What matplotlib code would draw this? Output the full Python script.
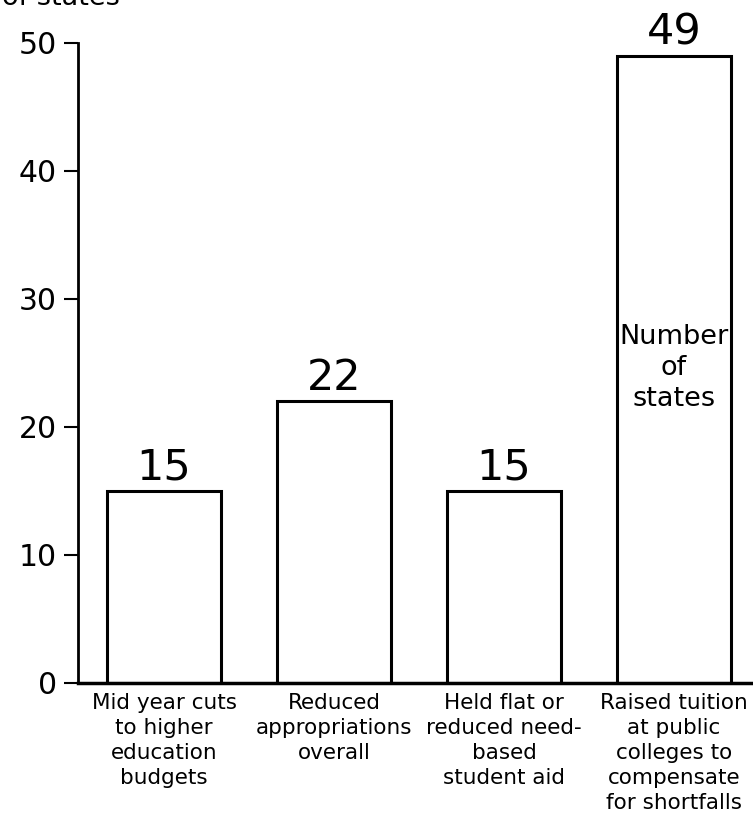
import matplotlib
matplotlib.use('Agg')
import matplotlib.pyplot as plt

# data
categories = ['Mid year cuts\nto higher\neducation\nbudgets',
              'Reduced\nappropriations\noverall',
              'Held flat or\nreduced need-\nbased\nstudent aid',
              'Raised tuition\nat public\ncolleges to\ncompensate\nfor shortfalls']
counts = [15, 22, 15, 49]
yticks = [0, 10, 20, 30, 40, 50]

plt.rcParams['font.family'] = ['DejaVu Sans']

fig = plt.figure(figsize=(7.53, 8.17), dpi=100)
ax = fig.add_axes([78 / 753, 1 - 683 / 817, 1 - 78 / 753, (683 - 43) / 817])

x = list(range(len(counts)))
bars = ax.bar(x, counts, width=0.67, color='white', edgecolor='black', linewidth=2.2)
ax.bar_label(bars, fontsize=31, padding=2)

ax.set_xlim(-0.506, 3.465)
ax.set_ylim(0, 50)
ax.set_yticks(yticks)
ax.set_xticks(x)
ax.set_xticklabels(categories, fontsize=15.5, linespacing=1.31)
ax.tick_params(axis='x', length=0, pad=7.5)
ax.tick_params(axis='y', labelsize=21.5, length=10, width=1.5, pad=5)

for s in ['top', 'right']:
    ax.spines[s].set_visible(False)
ax.spines['left'].set_linewidth(2)
ax.spines['bottom'].set_linewidth(2.5)

# y label text: one part runs off the top, one part sits inside the tall bar
fig.text(2 / 753, 1 - 5 / 817, 'Number\nof states', fontsize=19.5,
         ha='left', va='baseline', linespacing=1.24)
ax.text(3, 28.05, 'Number\nof\nstates', fontsize=19.5, ha='center', va='top',
        linespacing=1.24)

fig.savefig('out.png', dpi=100)
